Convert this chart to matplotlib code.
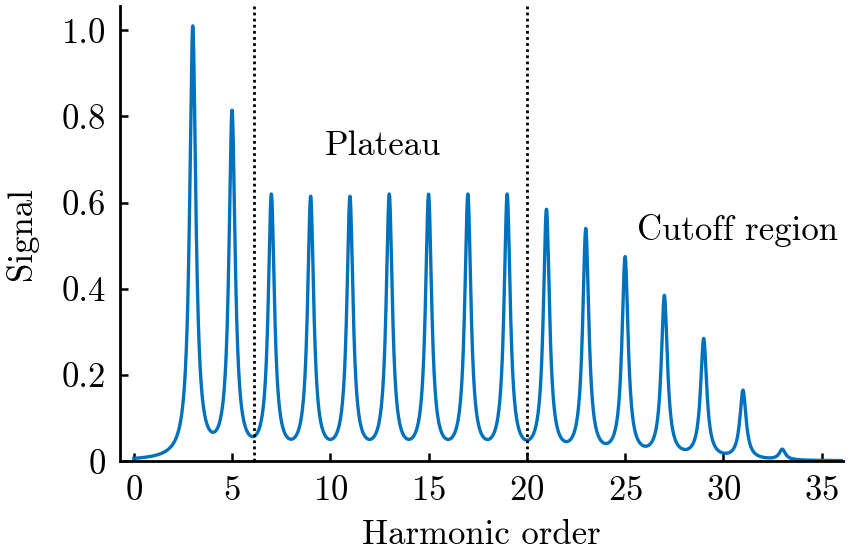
import numpy as np
import matplotlib
matplotlib.use("Agg")
import matplotlib.pyplot as plt

# --- data ---
harmonic_orders = [3, 5, 7, 9, 11, 13, 15, 17, 19, 21, 23, 25, 27, 29, 31, 33]
peak_signal = [1.01, 0.815, 0.62, 0.615, 0.615, 0.62, 0.62, 0.62, 0.62,
               0.585, 0.54, 0.475, 0.385, 0.285, 0.165, 0.028]
line_width_param = 0.19  # Lorentzian half width of each harmonic (in orders)
x_range = [0.0, 36.0]
region_bounds = [6.1, 20.0]
xticks = [0, 5, 10, 15, 20, 25, 30, 35]
yticks = [0, 0.2, 0.4, 0.6, 0.8, 1.0]
ytick_labels = ["0", "0.2", "0.4", "0.6", "0.8", "1.0"]

plt.rcParams['font.family'] = ['cmr10', 'DejaVu Serif']
plt.rcParams['mathtext.fontset'] = 'cm'
plt.rcParams['axes.formatter.use_mathtext'] = True

# spectrum as sum of Lorentzian lines with peak values matching the read heights
pos = np.array(harmonic_orders, dtype=float)
h = np.array(peak_signal)
g2 = line_width_param ** 2
M = g2 / ((pos[:, None] - pos[None, :]) ** 2 + g2)
amps = np.linalg.solve(M, h)
x = np.linspace(x_range[0], x_range[1], 3000)
y = (amps[None, :] * g2 / ((x[:, None] - pos[None, :]) ** 2 + g2)).sum(axis=1)

FS = 25
fig = plt.figure(figsize=(8.5, 5.51), dpi=100)
ax = fig.add_axes([0.141, 0.163, 0.851, 0.826])
ax.plot(x, y, color='#0072BD', lw=2.4)
for b in region_bounds:
    ax.axvline(b, color='black', ls=(0, (1, 1.2)), lw=2.0)

ax.set_xlim(-0.71, 36.1)
ax.set_ylim(0, 1.056)
ax.set_xticks(xticks)
ax.set_yticks(yticks)
ax.set_yticklabels(ytick_labels)
for s in ['top', 'right']:
    ax.spines[s].set_visible(False)
for s in ['left', 'bottom']:
    ax.spines[s].set_linewidth(2.0)
ax.tick_params(direction='in', length=6, width=1.8, labelsize=FS, pad=10)
ax.set_xlabel('Harmonic order', fontsize=FS, labelpad=9)
ax.set_ylabel('Signal', fontsize=FS, labelpad=17)

ax.text(12.7, 0.73, 'Plateau', fontsize=FS, ha='center', va='center')
ax.text(25.6, 0.536, 'Cutoff region', fontsize=FS, ha='left', va='center')

fig.savefig('out.png', dpi=100)
